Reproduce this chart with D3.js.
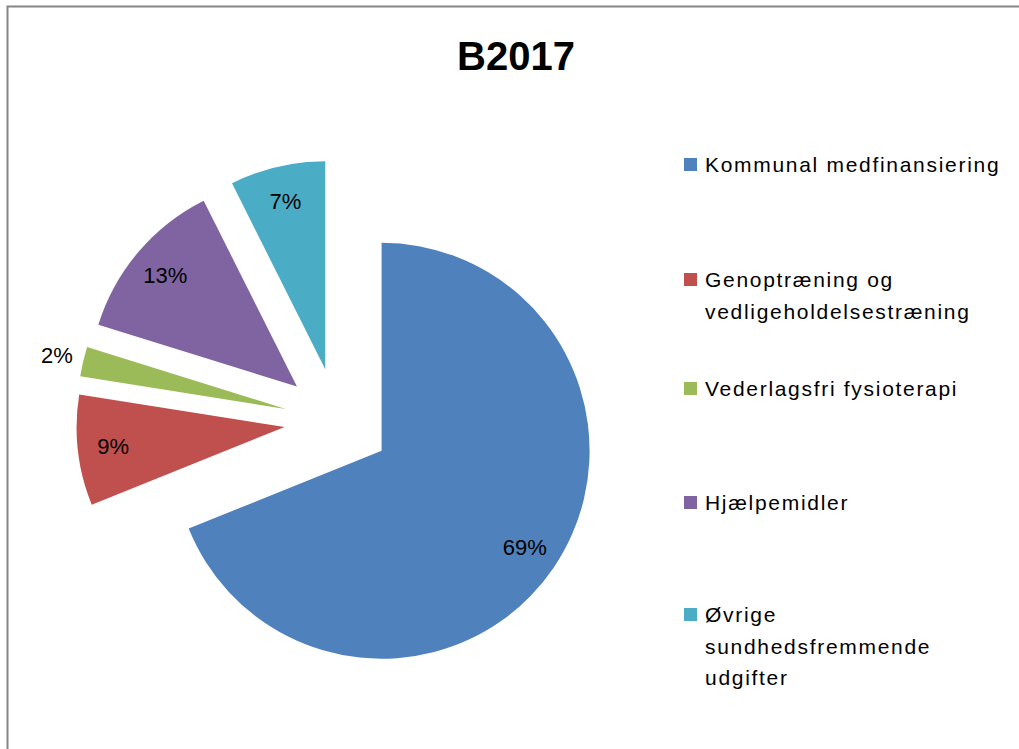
<!DOCTYPE html>
<html>
<head>
<meta charset="utf-8">
<script src="https://cdn.jsdelivr.net/npm/d3@7"></script>
<style>
  html, body { margin: 0; padding: 0; background: #fff; }
  svg { display: block; }
</style>
</head>
<body>
<svg id="chart" width="1019" height="749"></svg>
<script>
// ---- data ----
const title = "B2017";
const categories = [
  "Kommunal medfinansiering",
  "Genoptræning og vedligeholdelsestræning",
  "Vederlagsfri fysioterapi",
  "Hjælpemidler",
  "Øvrige sundhedsfremmende udgifter"
];
const legendLines = [
  ["Kommunal medfinansiering"],
  ["Genoptræning og", "vedligeholdelsestræning"],
  ["Vederlagsfri fysioterapi"],
  ["Hjælpemidler"],
  ["Øvrige", "sundhedsfremmende", "udgifter"]
];
const values = [68.9, 8.6, 2.3, 12.8, 7.4];
const colors = ["#4F81BD", "#C0504D", "#9BBB59", "#8064A2", "#4BACC6"];

// ---- layout ----
const svg = d3.select("#chart");
const W = 1019, H = 749;
const cx = 337.5, cy = 421, R = 208, explode = 53.2;

// border (left and top visible)
svg.append("path")
  .attr("d", `M7.5,${H} V6.5 H${W}`)
  .attr("fill", "none")
  .attr("stroke", "#868686")
  .attr("stroke-width", 2);

// title
svg.append("text")
  .attr("x", 516).attr("y", 70)
  .attr("text-anchor", "middle")
  .attr("font-family", "Liberation Sans, Arial, sans-serif")
  .attr("font-weight", "bold")
  .attr("font-size", 40)
  .text(title);

const pie = d3.pie().sort(null).value(d => d)
  .startAngle(0).endAngle(2 * Math.PI);
const arcs = pie(values);
const arc = d3.arc().innerRadius(0).outerRadius(R);
const total = d3.sum(values);

const g = svg.append("g").attr("transform", `translate(${cx},${cy})`);

const slices = g.selectAll("g.slice").data(arcs).enter().append("g")
  .attr("class", "slice")
  .attr("transform", d => {
    const m = (d.startAngle + d.endAngle) / 2;
    return `translate(${explode * Math.sin(m)},${-explode * Math.cos(m)})`;
  });

slices.append("path")
  .attr("d", arc)
  .attr("fill", (d, i) => colors[i]);

slices.append("text")
  .attr("transform", d => {
    const m = (d.startAngle + d.endAngle) / 2;
    const k = (d.value / total < 0.05) ? 1.13 : 0.83;
    return `translate(${k * R * Math.sin(m)},${-k * R * Math.cos(m)})`;
  })
  .attr("text-anchor", "middle")
  .attr("dy", "0.36em")
  .attr("font-family", "Liberation Sans, Arial, sans-serif")
  .attr("font-size", 22)
  .attr("fill", "#000")
  .text(d => Math.round(d.value / total * 100) + "%");

// legend
const legendY = [172, 287, 396, 510, 622];
const lineH = 31.5;
const leg = svg.append("g");
legendLines.forEach((lines, i) => {
  leg.append("rect")
    .attr("x", 684).attr("y", legendY[i] - 14)
    .attr("width", 13).attr("height", 13)
    .attr("fill", colors[i]);
  const t = leg.append("text")
    .attr("x", 705).attr("y", legendY[i])
    .attr("font-family", "Liberation Sans, Arial, sans-serif")
    .attr("font-size", 21)
    .attr("letter-spacing", 1.7)
    .attr("fill", "#000");
  lines.forEach((ln, j) => {
    t.append("tspan").attr("x", 705).attr("y", legendY[i] + j * lineH).text(ln);
  });
});
</script>
</body>
</html>
